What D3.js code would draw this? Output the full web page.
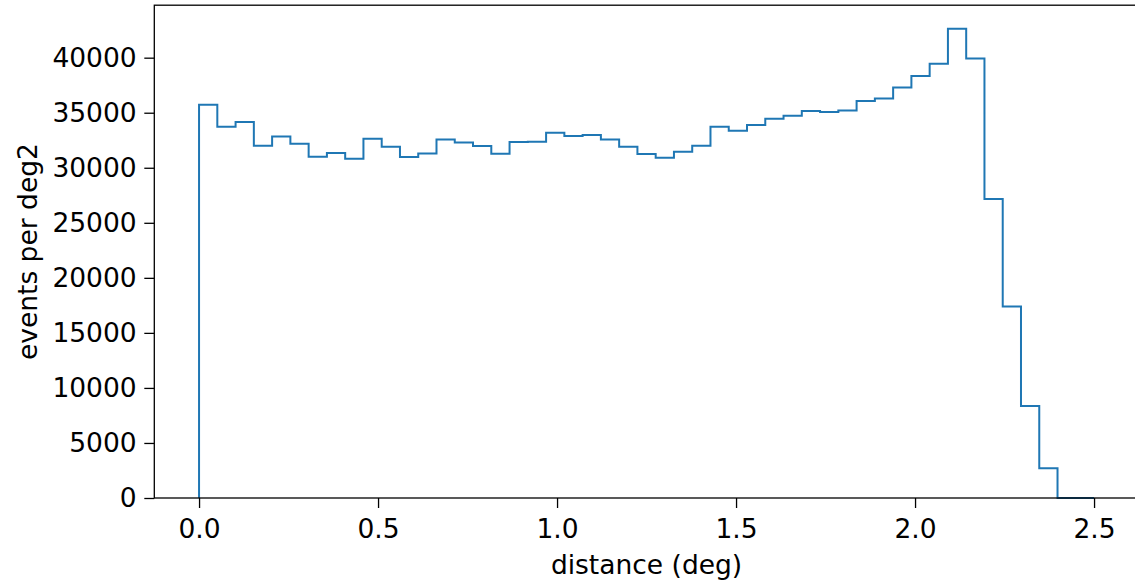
<!DOCTYPE html>
<html>
<head>
<meta charset="utf-8">
<script src="https://cdn.jsdelivr.net/npm/d3@7"></script>
<style>
  html, body { margin: 0; padding: 0; background: #ffffff; }
  svg { display: block; }
</style>
</head>
<body>
<svg id="chart" width="1135" height="584"></svg>
<script>
// ---- data ----
const binStart = 0.0;
const binEnd = 2.5;
const binCount = 49;
const eventsPerDeg2 = [
  35727, 33727, 34155, 32000, 32845, 32182, 31000, 31336, 30818, 32636,
  31909, 30973, 31300, 32573, 32300, 31973, 31273, 32336, 32364, 33182,
  32882, 32973, 32573, 31909, 31245, 30909, 31455, 32000, 33727, 33364,
  33882, 34455, 34727, 35155, 35064, 35209, 36064, 36300, 37300, 38336,
  39455, 42636, 39936, 27155, 17391, 8364, 2700, 0, 0
];
const xTicks = [0.0, 0.5, 1.0, 1.5, 2.0, 2.5];
const yTicks = [0, 5000, 10000, 15000, 20000, 25000, 30000, 35000, 40000];
const xLabel = "distance (deg)";
const yLabel = "events per deg2";

(function () {
// ---- layout ----
const svg = d3.select("#chart");
const mLeft = 154.3, mRight = 1138.8, mTop = 5.2, mBottom = 498;
const fontFamily = "'DejaVu Sans', sans-serif";
const fontSize = 26.5;

const binEdges = d3.range(binCount + 1).map(i => binStart + (binEnd - binStart) * i / binCount);
const xPad = (binEnd - binStart) * 0.05;
const x = d3.scaleLinear().domain([binStart - xPad, binEnd + xPad]).range([mLeft, mRight]);
const yMax = d3.max(eventsPerDeg2) * 1.05;
const y = d3.scaleLinear().domain([0, yMax]).range([mBottom, mTop]);

// step outline
const pts = [[binEdges[0], 0]];
eventsPerDeg2.forEach((v, i) => {
  pts.push([binEdges[i], v]);
  pts.push([binEdges[i + 1], v]);
});
pts.push([binEdges[binEdges.length - 1], 0]);

svg.append("path")
  .attr("d", d3.line().x(d => x(d[0])).y(d => y(d[1]))(pts))
  .attr("fill", "none")
  .attr("stroke", "#1f77b4")
  .attr("stroke-width", 2)
  .attr("stroke-linejoin", "miter");

// axes
const xAxis = svg.append("g")
  .attr("transform", `translate(0,${mBottom})`)
  .call(d3.axisBottom(x).tickValues(xTicks).tickFormat(d3.format(".1f"))
        .tickSize(10).tickSizeOuter(0).tickPadding(10.7));
const yAxis = svg.append("g")
  .attr("transform", `translate(${mLeft},0)`)
  .call(d3.axisLeft(y).tickValues(yTicks).tickFormat(d3.format("d"))
        .tickSize(10).tickSizeOuter(0).tickPadding(7.6));

[xAxis, yAxis].forEach(g => {
  g.select(".domain").remove();
  g.selectAll(".tick line").attr("stroke", "#000").attr("stroke-width", 1.3);
  g.selectAll(".tick text")
    .attr("fill", "#000")
    .style("font-family", fontFamily)
    .style("font-size", fontSize + "px");
});

// frame (spines)
svg.append("rect")
  .attr("x", mLeft).attr("y", mTop)
  .attr("width", mRight - mLeft).attr("height", mBottom - mTop)
  .attr("fill", "none")
  .attr("stroke", "#000")
  .attr("stroke-width", 1.3);

// axis labels
svg.append("text")
  .attr("x", (mLeft + mRight) / 2)
  .attr("y", 573.5)
  .attr("text-anchor", "middle")
  .style("font-family", fontFamily)
  .style("font-size", fontSize + "px")
  .attr("fill", "#000")
  .text(xLabel);

svg.append("text")
  .attr("transform", `translate(36.7,${(mTop + mBottom) / 2}) rotate(-90)`)
  .attr("text-anchor", "middle")
  .style("font-family", fontFamily)
  .style("font-size", fontSize + "px")
  .attr("fill", "#000")
  .text(yLabel);
})();
</script>
</body>
</html>
